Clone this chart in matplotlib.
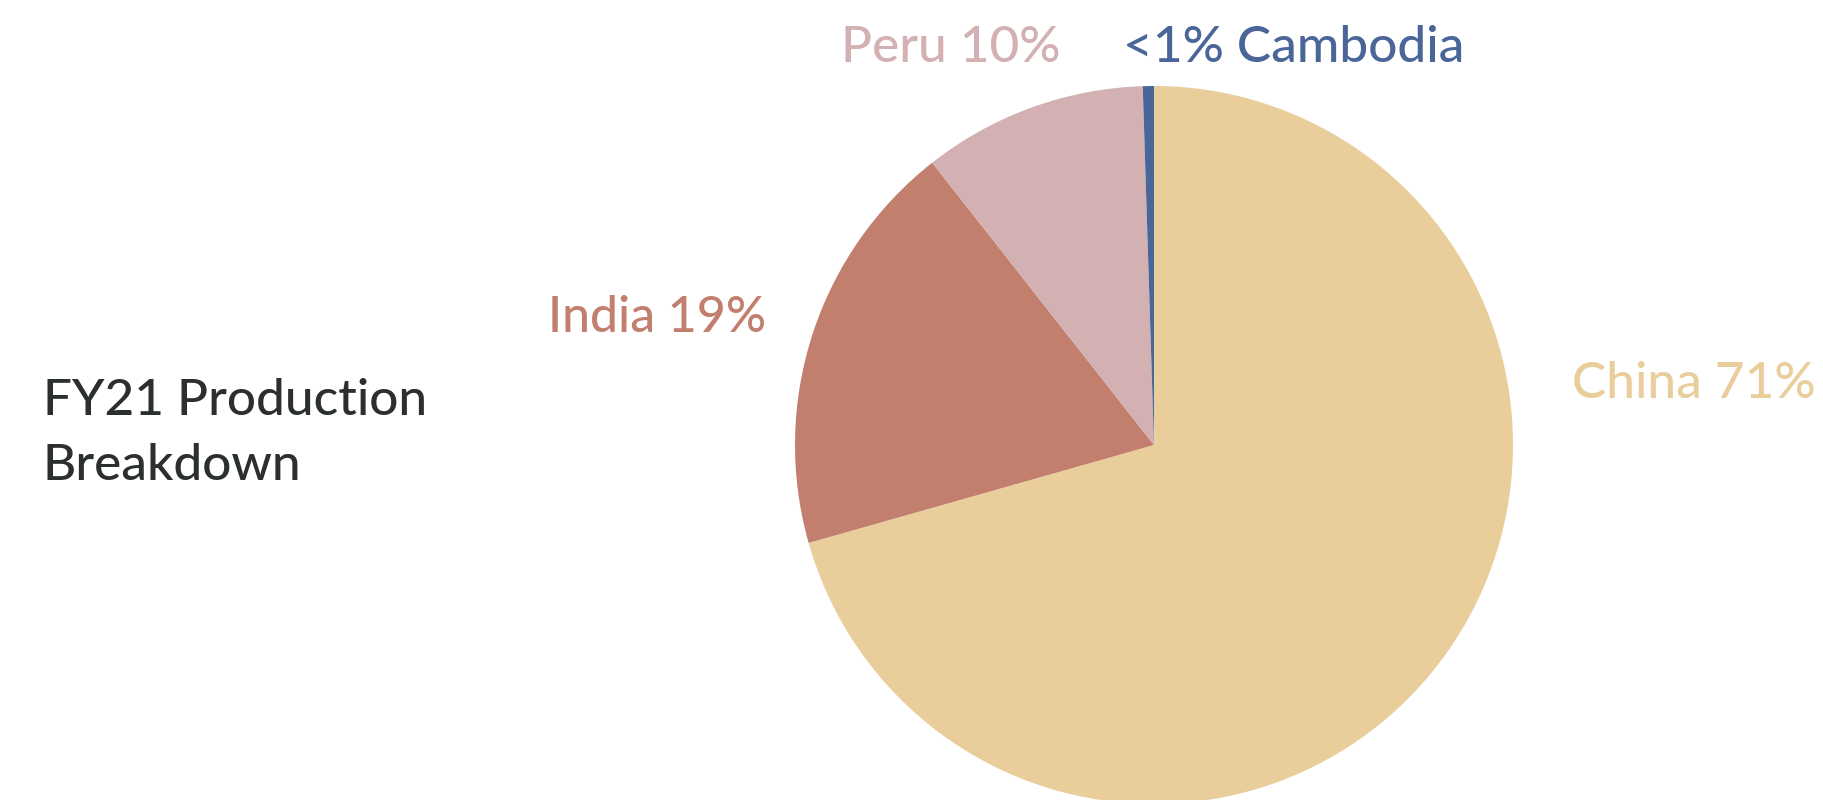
import matplotlib
matplotlib.use("Agg")
import matplotlib.pyplot as plt

# slices (clockwise from the top)
countries = ["China", "India", "Peru", "Cambodia"]
shares = [70.6, 18.8, 10.1, 0.5]
labels = ["China 71%", "India 19%", "Peru 10%", "<1% Cambodia"]
colors = ["#E9CE9C", "#C27F6E", "#D3B1B3", "#4A6698"]
title_lines = ["FY21 Production", "Breakdown"]

W, H = 1824, 800
plt.rcParams["font.family"] = ["Lato", "DejaVu Sans"]

fig = plt.figure(figsize=(W / 100, H / 100), dpi=100)
fig.patch.set_facecolor("white")

# pie box in pixels: left, top, size
px_left, px_top, px_size = 795, 86, 718
ax = fig.add_axes([px_left / W, 1 - (px_top + px_size) / H, px_size / W, px_size / H])
ax.pie(shares, colors=colors, startangle=90, counterclock=False,
       wedgeprops=dict(linewidth=0))
ax.set_xlim(-1, 1)
ax.set_ylim(-1, 1)
ax.set_aspect("equal")
ax.axis("off")


def put(text, x, y, color, size=37):
    fig.text(x / W, 1 - y / H, text, color=color, fontsize=size,
             fontweight="medium", ha="left", va="baseline")


put(title_lines[0], 43, 415, "#2B2F30")
put(title_lines[1], 43, 480, "#2B2F30")

# label positions (pixels, baseline)
put(labels[0], 1572, 398, colors[0])
put(labels[1], 548, 332, colors[1], size=36)
put(labels[2], 841, 62, colors[2])
put(labels[3], 1123, 62, colors[3])

fig.savefig("out.png", dpi=100)
